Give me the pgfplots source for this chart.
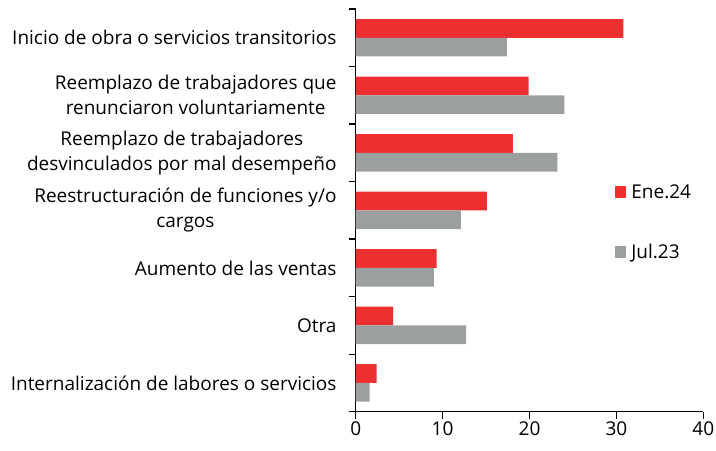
\documentclass[border=0pt]{standalone}
\usepackage{fontspec}
\setmainfont{Open Sans}
\usepackage{pgfplots}
\pgfplotsset{compat=1.18}
\definecolor{eneRed}{RGB}{238,47,47}
\definecolor{julGray}{RGB}{156,159,159}
\newcommand{\lblfont}{\fontsize{19bp}{25bp}\selectfont}

\begin{document}
\begin{tikzpicture}
\useasboundingbox (-355.7bp,-39.3bp) rectangle (360.3bp,411.7bp);
\begin{axis}[
    at={(0,0)}, anchor=south west,
    scale only axis,
    width=347.6bp, height=402.7bp,
    xbar, bar width=0.325,
    xmin=0, xmax=40, xtick={0,10,20,30,40},
    ymin=-0.5, ymax=6.5,
    ytick={0,...,6},
    yticklabels={
        Internalización de labores o servicios,
        Otra,
        Aumento de las ventas,
        {Reestructuración de funciones y/o\\cargos},
        {Reemplazo de trabajadores\\desvinculados por mal desempeño},
        {Reemplazo de trabajadores que\\renunciaron voluntariamente},
        Inicio de obra o servicios transitorios},
    minor ytick={-0.5,0.5,...,6.5},
    axis x line*=bottom, axis y line*=left,
    axis line style={black, line width=1.3bp, -},
    tick align=outside,
    major tick length=7bp, minor tick length=7bp,
    every tick/.style={black, line width=1.3bp},
    ytick style={/pgfplots/major tick length=0pt},
    yticklabel style={align=center, font=\lblfont, inner sep=0pt, xshift=-12bp},
    xticklabel style={font=\lblfont},
    /pgf/number format/assume math mode=true,
    legend style={at={(0.7365,0.575)}, anchor=north west, draw=none, fill=none,
        font=\lblfont, row sep=40bp,
        nodes={inner sep=2bp},
        /tikz/every odd column/.append style={column sep=3bp}},
    legend cell align=left,
    legend image code/.code={\fill (0bp,-6bp) rectangle (11.5bp,6bp);},
]
\addplot[fill=eneRed, draw=none, bar shift=0.1625] coordinates {
    (2.4,0) (4.3,1) (9.3,2) (15.1,3) (18.1,4) (19.9,5) (30.8,6)
};
\addplot[fill=julGray, draw=none, bar shift=-0.1625] coordinates {
    (1.6,0) (12.7,1) (9.0,2) (12.1,3) (23.2,4) (24.0,5) (17.4,6)
};
\legend{Ene.24, Jul.23}
\end{axis}
\end{tikzpicture}
\end{document}
